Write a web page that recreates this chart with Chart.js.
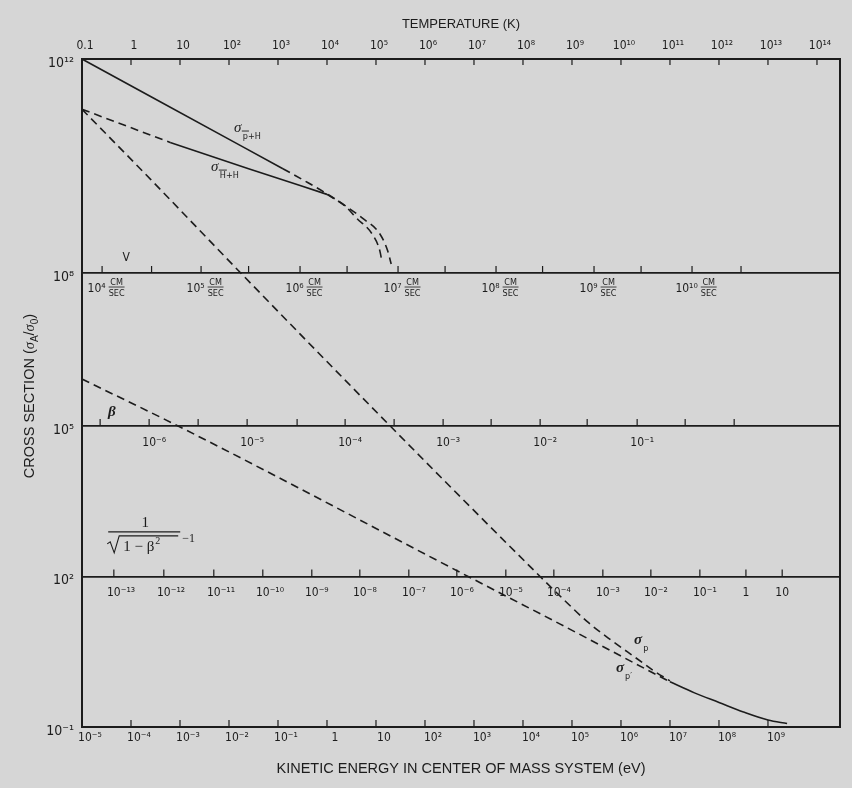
<!DOCTYPE html>
<html><head><meta charset="utf-8">
<script src="https://cdn.jsdelivr.net/npm/chart.js@4.4.1/dist/chart.umd.min.js"></script>
<style>html,body{margin:0;padding:0;background:#d6d6d6;}canvas{display:block;}</style>
</head><body>
<canvas id="c" width="852" height="788" style="width:852px;height:788px"></canvas>
<script>
// ---------- data (log10 of energy in eV, log10 of cross section) ----------
const pbarH_solid_logE = [-5, -3.6, -1.8, -0.9];
const pbarH_solid_logS = [12, 11.3, 10.4, 9.95];
const pbarH_dash_logE  = [-0.9, -0.45, 0.0, 0.37, 0.73, 1.08, 1.24, 1.31];
const pbarH_dash_logS  = [9.95, 9.72, 9.48, 9.26, 9.02, 8.73, 8.41, 8.17];
const HbarH_dashA_logE = [-5, -3.2];
const HbarH_dashA_logS = [11.06, 10.44];
const HbarH_solid_logE = [-3.2, -1.6, 0.0];
const HbarH_solid_logS = [10.44, 9.95, 9.47];
const HbarH_dashB_logE = [0.0, 0.37, 0.61, 0.92, 1.08, 1.12];
const HbarH_dashB_logS = [9.47, 9.25, 9.02, 8.73, 8.41, 8.22];
const sigmaP_logE = [-5, -3.6, -1.76, 1.29, 4.35, 4.8, 5.3, 5.8, 6.3, 6.7, 7.0];
const sigmaP_logS = [11.06, 9.75, 8.0, 5.0, 2.0, 1.57, 1.11, 0.73, 0.38, 0.1, -0.08];
const sigmaPprime_logE = [-5, -3.04, 2.88, 4.76, 7.0];
const sigmaPprime_logS = [5.92, 5.0, 2.0, 1.05, -0.1];
const merged_logE = [7.0, 7.5, 8.0, 8.5, 9.0, 9.39];
const merged_logS = [-0.1, -0.32, -0.51, -0.7, -0.86, -0.93];

// ---------- axis ticks ----------
const energyTickValues = [1e-5,1e-4,1e-3,1e-2,1e-1,1,10,1e2,1e3,1e4,1e5,1e6,1e7,1e8,1e9];
const energyTickLabels = ['10⁻⁵','10⁻⁴','10⁻³','10⁻²','10⁻¹','1','10','10²','10³','10⁴','10⁵','10⁶','10⁷','10⁸','10⁹'];
const temperatureTickValues = [0.1,1,10,1e2,1e3,1e4,1e5,1e6,1e7,1e8,1e9,1e10,1e11,1e12,1e13,1e14];
const temperatureTickLabels = ['0.1','1','10','10²','10³','10⁴','10⁵','10⁶','10⁷','10⁸','10⁹','10¹⁰','10¹¹','10¹²','10¹³','10¹⁴'];
const crossSectionTickValues = [1e12, 1e8, 1e5, 1e2, 1e-1];
const crossSectionTickLabels = ['10¹²','10⁸','10⁵','10²','10⁻¹'];
const panelLineValues = [1e8, 1e5, 1e2];
// the printed cross-section axis is not evenly spaced: decades marked and their share of the axis height
const yAxisMarkedLog  = [-1, 2, 5, 8, 12];
const yAxisMarkedFrac = [0, 0.2253, 0.4506, 0.6796, 1];

// inner scales: positions given as log10 energy (eV)
const velocityLabels = ['10⁴','10⁵','10⁶','10⁷','10⁸','10⁹','10¹⁰'];
const velocityMajorLogE = [-4.59, -2.57, -0.55, 1.45, 3.45, 5.45, 7.45];
const velocityMinorLogE = [-3.58, -1.6, 0.41, 2.41, 4.4, 6.41, 8.45];
const betaLabels = ['10⁻⁶','10⁻⁵','10⁻⁴','10⁻³','10⁻²','10⁻¹'];
const betaMajorLogE = [-3.63, -1.63, 0.37, 2.37, 4.35, 6.33];
const betaMinorLogE = [-4.63, -2.63, -0.61, 1.37, 3.35, 5.31, 7.31, 8.31];
const gammaLabels = ['10⁻¹³','10⁻¹²','10⁻¹¹','10⁻¹⁰','10⁻⁹','10⁻⁸','10⁻⁷','10⁻⁶','10⁻⁵','10⁻⁴','10⁻³','10⁻²','10⁻¹','1','10'];
const gammaLogE = [-4.35, -3.33, -2.31, -1.31, -0.31, 0.67, 1.67, 2.65, 3.65, 4.63, 5.63, 6.61, 7.61, 8.55, 9.29];

// ---------- styling ----------
const INK = '#1c1c1c';
const SANS = "'DejaVu Sans Condensed','Liberation Sans Narrow','Liberation Sans',sans-serif";
const TITLE = "'Liberation Sans','DejaVu Sans',sans-serif";
const SERIF = "'Liberation Serif','DejaVu Serif',serif";

// log scale that follows the unevenly spaced printed decades
class SegmentedLogScale extends Chart.LogarithmicScale {
  getPixelForValue(value) {
    if (value === null || value === undefined || isNaN(value) || value <= 0) return NaN;
    const l = Math.log10(value), A = yAxisMarkedLog, F = yAxisMarkedFrac;
    let i = 0;
    while (i < A.length - 2 && l > A[i + 1]) i++;
    return this.getPixelForDecimal(F[i] + (l - A[i]) / (A[i + 1] - A[i]) * (F[i + 1] - F[i]));
  }
  getValueForPixel(pixel) {
    const f = this.getDecimalForPixel(pixel), A = yAxisMarkedLog, F = yAxisMarkedFrac;
    let i = 0;
    while (i < F.length - 2 && f > F[i + 1]) i++;
    return Math.pow(10, A[i] + (f - F[i]) / (F[i + 1] - F[i]) * (A[i + 1] - A[i]));
  }
}
SegmentedLogScale.id = 'segmentedLog';
SegmentedLogScale.defaults = Chart.LogarithmicScale.defaults;
Chart.register(SegmentedLogScale);

const pts = (lx, ly) => lx.map((e, i) => ({x: Math.pow(10, e), y: Math.pow(10, ly[i])}));
function line(label, lx, ly, dashed) {
  return {label, data: pts(lx, ly), showLine: true, pointRadius: 0, borderColor: INK,
    borderWidth: 1.6, borderDash: dashed ? [8, 5] : [], cubicInterpolationMode: 'monotone',
    xAxisID: 'x', yAxisID: 'y'};
}

const overlay = {
  id: 'overlay',
  afterDraw(chart) {
    const {ctx, chartArea: a, scales: {x, y, t}} = chart;
    const X = e => x.getPixelForValue(Math.pow(10, e));
    const Y = s => y.getPixelForValue(Math.pow(10, s));
    ctx.save();
    ctx.strokeStyle = INK; ctx.fillStyle = INK;
    ctx.lineWidth = 2;
    ctx.strokeRect(a.left, a.top, a.right - a.left, a.bottom - a.top);
    ctx.lineWidth = 1.2;
    ctx.beginPath();
    energyTickValues.forEach(v => { const p = x.getPixelForValue(v); ctx.moveTo(p, a.bottom); ctx.lineTo(p, a.bottom - 7); });
    temperatureTickValues.forEach(v => { const p = t.getPixelForValue(v); ctx.moveTo(p, a.top); ctx.lineTo(p, a.top + 6); });
    ctx.stroke();

    const yV = y.getPixelForValue(1e8), yB = y.getPixelForValue(1e5), yG = y.getPixelForValue(1e2);
    ctx.beginPath();
    velocityMajorLogE.concat(velocityMinorLogE).forEach(e => { ctx.moveTo(X(e), yV); ctx.lineTo(X(e), yV - 7); });
    betaMajorLogE.concat(betaMinorLogE).forEach(e => { ctx.moveTo(X(e), yB); ctx.lineTo(X(e), yB - 7); });
    gammaLogE.forEach(e => { ctx.moveTo(X(e), yG); ctx.lineTo(X(e), yG - 7); });
    ctx.stroke();

    ctx.textBaseline = 'alphabetic';
    function pow(px, base, lab) {
      ctx.font = `12px ${SANS}`;
      if (lab.length > 2 && lab.startsWith('10')) {
        const w = ctx.measureText('10').width;
        ctx.textAlign = 'left'; ctx.fillText(lab, px - w / 2, base);
      } else { ctx.textAlign = 'center'; ctx.fillText(lab, px, base); }
    }
    velocityLabels.forEach((lab, i) => {
      const px = X(velocityMajorLogE[i]);
      ctx.font = `12px ${SANS}`; const w1 = ctx.measureText(lab).width;
      ctx.font = `9px ${SANS}`; const wf = Math.max(ctx.measureText('CM').width, ctx.measureText('SEC').width);
      const sx = px + 4 - (w1 + 3 + wf) / 2;
      ctx.font = `12px ${SANS}`; ctx.textAlign = 'left'; ctx.fillText(lab, sx, yV + 19);
      const fx = sx + w1 + 3;
      ctx.font = `9px ${SANS}`; ctx.textAlign = 'center';
      ctx.fillText('CM', fx + wf / 2, yV + 12);
      ctx.fillText('SEC', fx + wf / 2, yV + 23);
      ctx.beginPath(); ctx.lineWidth = 0.8; ctx.moveTo(fx, yV + 14); ctx.lineTo(fx + wf, yV + 14); ctx.stroke();
    });
    betaLabels.forEach((lab, i) => pow(X(betaMajorLogE[i]), yB + 20, lab));
    gammaLabels.forEach((lab, i) => pow(X(gammaLogE[i]), yG + 20, lab));

    ctx.textAlign = 'center'; ctx.textBaseline = 'middle';
    ctx.font = `12px ${SANS}`; ctx.fillText('V', X(-4.1), Y(8.28));
    ctx.font = `italic bold 15px ${SERIF}`; ctx.fillText('β', X(-4.39), Y(5.27));

    {
      const cx = X(-3.71), by = Y(2.99);
      ctx.textBaseline = 'alphabetic'; ctx.textAlign = 'center';
      ctx.font = `15px ${SERIF}`; ctx.fillText('1', cx, by);
      ctx.lineWidth = 1.1;
      ctx.beginPath(); ctx.moveTo(cx - 37, by + 5); ctx.lineTo(cx + 35, by + 5); ctx.stroke();
      ctx.beginPath();
      ctx.moveTo(cx - 38, by + 17); ctx.lineTo(cx - 35, by + 15); ctx.lineTo(cx - 31, by + 26);
      ctx.lineTo(cx - 26, by + 9); ctx.lineTo(cx + 33, by + 9); ctx.stroke();
      ctx.textAlign = 'left'; ctx.font = `15px ${SERIF}`;
      ctx.fillText('1 − β', cx - 22, by + 24);
      const wb = ctx.measureText('1 − β').width;
      ctx.font = `10px ${SERIF}`; ctx.fillText('2', cx - 22 + wb + 1, by + 17);
      ctx.font = `12px ${SERIF}`; ctx.fillText('−1', cx + 37, by + 15);
    }

    function sigma(e, s, sub, barFirst, bold) {
      const px = X(e), py = Y(s);
      ctx.textBaseline = 'middle'; ctx.textAlign = 'center';
      ctx.font = `${bold ? 'bold ' : ''}italic 15px ${SERIF}`;
      ctx.fillText('σ', px, py);
      ctx.textAlign = 'left'; ctx.font = `9px ${SANS}`;
      const sx = px + 5, sy = py + 9;
      ctx.fillText(sub, sx, sy);
      if (barFirst) {
        const w = ctx.measureText(sub[0]).width;
        ctx.beginPath(); ctx.lineWidth = 0.9; ctx.moveTo(sx - 1, sy - 6); ctx.lineTo(sx + w + 1, sy - 6); ctx.stroke();
      }
    }
    sigma(-1.82, 10.71, 'p+H', true, false);
    sigma(-2.29, 9.98, 'H+H', true, false);
    sigma(6.35, 0.74, 'p', false, true);
    sigma(5.98, 0.18, 'p′', false, true);

    {
      ctx.save();
      ctx.translate(29, 396); ctx.rotate(-Math.PI / 2);
      const parts = [['CROSS SECTION (', 14.5, 0, TITLE], ['σ', 14.5, 0, SERIF + ';italic'], ['A', 10, 4, TITLE], ['/', 14.5, 0, TITLE], ['σ', 14.5, 0, SERIF + ';italic'], ['0', 10, 4, TITLE], [')', 14.5, 0, TITLE]];
      const fontOf = p => { const [fam, it] = p[3].split(';'); return `${it ? 'italic ' : ''}${p[1]}px ${fam}`; };
      let total = 0;
      parts.forEach(p => { ctx.font = fontOf(p); total += ctx.measureText(p[0]).width; });
      let cx = -total / 2;
      ctx.textAlign = 'left'; ctx.textBaseline = 'alphabetic';
      parts.forEach(p => { ctx.font = fontOf(p); ctx.fillText(p[0], cx, 5 + p[2]); cx += ctx.measureText(p[0]).width; });
      ctx.restore();
    }
    ctx.restore();
  }
};

new Chart(document.getElementById('c'), {
  type: 'scatter',
  data: {
    datasets: [
      line('σ p̄+H', pbarH_solid_logE, pbarH_solid_logS, false),
      line('σ p̄+H (extrapolated)', pbarH_dash_logE, pbarH_dash_logS, true),
      line('σ H̄+H (low)', HbarH_dashA_logE, HbarH_dashA_logS, true),
      line('σ H̄+H', HbarH_solid_logE, HbarH_solid_logS, false),
      line('σ H̄+H (extrapolated)', HbarH_dashB_logE, HbarH_dashB_logS, true),
      line('σ p', sigmaP_logE, sigmaP_logS, true),
      line("σ p'", sigmaPprime_logE, sigmaPprime_logS, true),
      line("σ p = σ p'", merged_logE, merged_logS, false)
    ]
  },
  options: {
    responsive: false, animation: false, devicePixelRatio: 1,
    layout: {padding: {right: 12}},
    plugins: {legend: {display: false}, tooltip: {enabled: false}},
    scales: {
      x: {
        type: 'logarithmic', axis: 'x', position: 'bottom', bounds: 'data',
        min: 1e-5, max: Math.pow(10, 10.47),
        afterBuildTicks: s => { s.ticks = energyTickValues.map(v => ({value: v})); },
        afterFit: s => { s.height = 61; },
        ticks: {autoSkip: false, maxRotation: 0, minRotation: 0, padding: 4, labelOffset: 8, color: INK,
          font: {family: SANS, size: 12}, callback: (v, i) => energyTickLabels[i]},
        grid: {display: false, drawTicks: false}, border: {display: false},
        title: {display: true, text: 'KINETIC ENERGY IN CENTER OF MASS SYSTEM (eV)', color: INK,
          font: {family: TITLE, size: 14.5}, padding: {top: 0, bottom: 10}}
      },
      t: {
        type: 'logarithmic', axis: 'x', position: 'top', bounds: 'data',
        min: 0.1, max: 0.1 * Math.pow(10, 15.47),
        afterBuildTicks: s => { s.ticks = temperatureTickValues.map(v => ({value: v})); },
        afterFit: s => { s.height = 59; },
        ticks: {autoSkip: false, maxRotation: 0, minRotation: 0, padding: 6, labelOffset: 3, color: INK,
          font: {family: SANS, size: 12}, callback: (v, i) => temperatureTickLabels[i]},
        grid: {display: false, drawTicks: false}, border: {display: false},
        title: {display: true, text: 'TEMPERATURE (K)', color: INK,
          font: {family: TITLE, size: 13}, padding: {top: 17, bottom: 0}}
      },
      y: {
        type: 'segmentedLog', axis: 'y', position: 'left', bounds: 'data',
        min: 0.1, max: 1e12,
        afterBuildTicks: s => { s.ticks = crossSectionTickValues.map(v => ({value: v})); },
        afterFit: s => { s.width = 82; },
        ticks: {autoSkip: false, padding: 8, labelOffset: 4, color: INK,
          font: {family: SANS, size: 14}, callback: (v, i) => crossSectionTickLabels[i]},
        grid: {drawTicks: false, lineWidth: 1.8,
          color: c => (c.tick && panelLineValues.includes(c.tick.value)) ? INK : 'rgba(0,0,0,0)'},
        border: {display: false},
        title: {display: false}
      }
    }
  },
  plugins: [overlay]
});
</script></body></html>
